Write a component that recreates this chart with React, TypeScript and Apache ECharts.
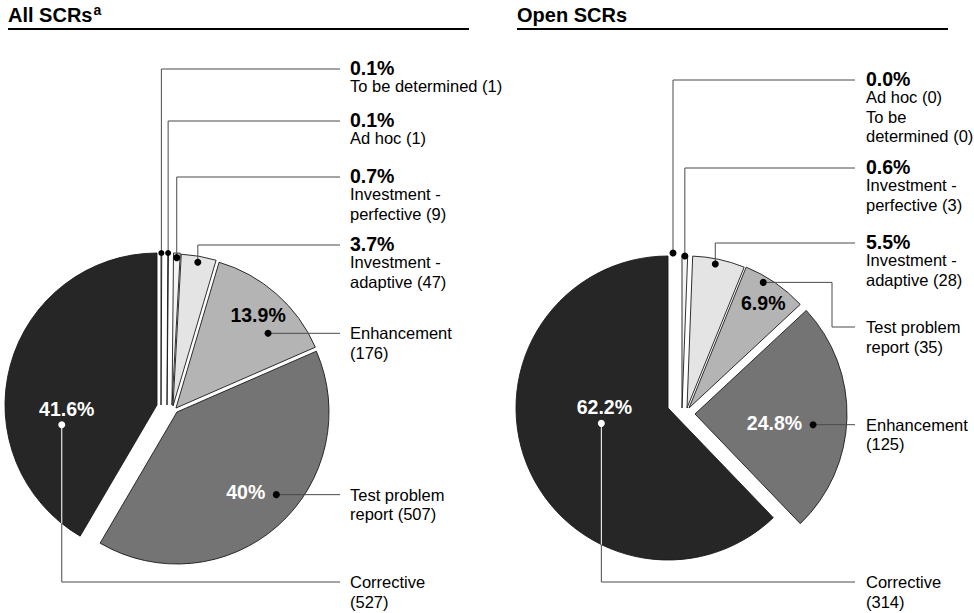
import React, { useEffect, useRef } from 'react';
import * as echarts from 'echarts';

// ---------------- data ----------------
const leftTitle = 'All SCRs';
const leftTitleNote = 'a';
const leftCategories = ['To be determined', 'Ad hoc', 'Investment - perfective', 'Investment - adaptive', 'Enhancement', 'Test problem report', 'Corrective'];
const leftCounts = [1, 1, 9, 47, 176, 507, 527];
const leftPctLabels = ['0.1%', '0.1%', '0.7%', '3.7%', '13.9%', '40%', '41.6%'];
const leftLabelNames = ['To be determined', 'Ad hoc', 'Investment -\nperfective', 'Investment -\nadaptive', 'Enhancement\n', 'Test problem\nreport', 'Corrective\n'];

const rightTitle = 'Open SCRs';
const rightCategories = ['Ad hoc', 'To be determined', 'Investment - perfective', 'Investment - adaptive', 'Test problem report', 'Enhancement', 'Corrective'];
const rightCounts = [0, 0, 3, 28, 35, 125, 314];
const rightPctLabels = ['0.0%', '0.0%', '0.6%', '5.5%', '6.9%', '24.8%', '62.2%'];
const rightLabelNames = ['Ad hoc', 'To be\ndetermined', 'Investment -\nperfective', 'Investment -\nadaptive', 'Test problem\nreport', 'Enhancement\n', 'Corrective\n'];

// ---------------- styles / layout ----------------
const FONT = '"Liberation Sans", Arial, Helvetica, sans-serif';
const LEADER = '#4a4a4a';
const OUTLINE = '#1a1a1a';

type Pt = [number, number];
interface PieCfg {
  title: string; note?: string; titleX: number; ruleEnd: number;
  categories: string[]; counts: number[]; pctLabels: string[]; labelNames: string[];
  groups: number[][];
  center: Pt; radius: number;
  offsets: Pt[]; colors: string[]; hidden: boolean[];
  anchors: Pt[]; dotR: number[];
  leaderY: (number | null)[]; elbowX: (number | null)[];
  labelX: number; lineEndX: number;
  inside: (null | [number, number, string])[];
}

const LEFT: PieCfg = {
  title: leftTitle, note: leftTitleNote, titleX: 8, ruleEnd: 469,
  categories: leftCategories, counts: leftCounts, pctLabels: leftPctLabels, labelNames: leftLabelNames,
  groups: [[0], [1], [2], [3], [4], [5], [6]],
  center: [157, 405], radius: 152,
  offsets: [[4, 0], [10, 0], [15, 0], [16, 1], [19, 3], [20, 7], [0, 0]],
  colors: ['#ffffff', '#ffffff', '#f4f4f4', '#e4e4e4', '#b4b4b4', '#747474', '#262626'],
  hidden: [false, false, false, false, false, false, false],
  anchors: [[1.0, 0.5], [1.0, 0.5], [0.97, 0.5], [0.96, 0.5], [0.78, 0.69], [0.85, 0.44], [0.64, 0.32]],
  dotR: [3, 3, 3.5, 3.5, 3.5, 3.5, 3.5],
  leaderY: [69, 121, 177, 245, null, null, 582],
  elbowX: [null, null, null, null, null, null, null],
  labelX: 350, lineEndX: 340,
  inside: [null, null, null, null, [-10, -18, 'center'], [-11, -3, 'right'], [5, -16, 'center']],
};

const RIGHT: PieCfg = {
  title: rightTitle, titleX: 517, ruleEnd: 948,
  categories: rightCategories, counts: rightCounts, pctLabels: rightPctLabels, labelNames: rightLabelNames,
  groups: [[0, 1], [2], [3], [4], [5], [6]],
  center: [668, 408], radius: 152,
  offsets: [[5, 0], [5, 0], [14, 0], [19, 0], [21, 0], [27, 6], [0, 0]],
  colors: ['#ffffff', '#ffffff', '#f4f4f4', '#e4e4e4', '#b4b4b4', '#747474', '#262626'],
  hidden: [true, true, false, false, false, false, false],
  anchors: [[1.02, 0.5], [1.02, 0.5], [1.0, 0.5], [0.965, 0.45], [0.96, 0.34], [0.78, 0.54], [0.45, 0.54]],
  dotR: [3.5, 3.5, 3.5, 3.5, 3.5, 3.5, 3.5],
  leaderY: [80, 168, 243, 327, null, 582],
  elbowX: [null, null, null, 832, null, null],
  labelX: 866, lineEndX: 855,
  inside: [null, null, null, null, [0, 21, 'center'], [-11, -2, 'right'], [3, -16, 'center']],
};

function isDark(hex: string) {
  const v = parseInt(hex.slice(1), 16);
  const r = (v >> 16) & 255, g = (v >> 8) & 255, b = v & 255;
  return (r + g + b) / 3 < 128;
}

function measure(text: string, font: string) {
  const c = document.createElement('canvas').getContext('2d');
  if (!c) return text.length * 10;
  c.font = font;
  return c.measureText(text).width;
}

function build(cfg: PieCfg) {
  const total = cfg.counts.reduce((a, b) => a + b, 0);
  const starts: number[] = [];
  const ends: number[] = [];
  let acc = 0;
  cfg.counts.forEach((v) => { starts.push((acc / total) * 360); acc += v; ends.push((acc / total) * 360); });
  const sc = (i: number): Pt => [cfg.center[0] + cfg.offsets[i][0], cfg.center[1] + cfg.offsets[i][1]];
  const polar = (c: Pt, rr: number, deg: number): Pt => {
    const a = (deg * Math.PI) / 180;
    return [c[0] + rr * Math.sin(a), c[1] - rr * Math.cos(a)];
  };
  const anchor = (i: number): Pt => polar(sc(i), cfg.anchors[i][0] * cfg.radius, starts[i] + cfg.anchors[i][1] * (ends[i] - starts[i]));

  const series: any[] = [];
  cfg.counts.forEach((_, i) => {
    if (cfg.hidden[i]) return;
    series.push({
      type: 'pie', silent: true, animation: false,
      center: sc(i), radius: cfg.radius, startAngle: 90, clockwise: true,
      label: { show: false }, labelLine: { show: false }, emphasis: { disabled: true },
      data: cfg.counts.map((v, j) => ({
        value: v, name: cfg.categories[j],
        itemStyle: j === i
          ? { color: cfg.colors[j], borderColor: OUTLINE, borderWidth: 0.9 }
          : { color: 'rgba(0,0,0,0)', borderWidth: 0 },
      })),
    });
  });

  const els: any[] = [];
  const text = (x: number, y: number, t: string, font: string, fill: string, align = 'left') => {
    els.push({ type: 'text', z: 110, x, y, silent: true,
      style: { text: t, font, fill, align, verticalAlign: 'middle', textAlign: align, textVerticalAlign: 'middle' } });
  };

  // title + rule
  const titleFont = `bold 20px ${FONT}`;
  text(cfg.titleX, 15, cfg.title, titleFont, '#000');
  if (cfg.note) {
    const w = measure(cfg.title, titleFont);
    text(cfg.titleX + w + 1, 10, cfg.note, `bold 14px ${FONT}`, '#000');
  }
  els.push({ type: 'line', z: 110, silent: true, shape: { x1: cfg.titleX, y1: 29, x2: cfg.ruleEnd, y2: 29 }, style: { stroke: '#000', lineWidth: 2 } });

  const boldFont = `bold 19.5px ${FONT}`;
  const regFont = `16.5px ${FONT}`;

  cfg.groups.forEach((grp, gi) => {
    const i = grp[0];
    const d = anchor(i);
    const L = cfg.leaderY[gi] == null ? d[1] : (cfg.leaderY[gi] as number);
    const ex = cfg.elbowX[gi];
    let pts: Pt[];
    if (ex != null) pts = [d, [ex, d[1]], [ex, L], [cfg.lineEndX, L]];
    else if (Math.abs(L - d[1]) < 1) pts = [d, [cfg.lineEndX, d[1]]];
    else pts = [d, [d[0], L], [cfg.lineEndX, L]];
    els.push({ type: 'polyline', z: 105, silent: true, shape: { points: pts }, style: { stroke: LEADER, lineWidth: 1, fill: null } });

    const veryDark = parseInt(cfg.colors[i].slice(1, 3), 16) < 0x50;
    if (veryDark && !cfg.hidden[i]) {
      // white part of the leader inside a very dark slice
      const c = sc(i);
      const p0 = pts[0], p1 = pts[1];
      const len = Math.hypot(p1[0] - p0[0], p1[1] - p0[1]);
      const ux = (p1[0] - p0[0]) / len, uy = (p1[1] - p0[1]) / len;
      const fx = p0[0] - c[0], fy = p0[1] - c[1];
      const b = fx * ux + fy * uy;
      const cc = fx * fx + fy * fy - cfg.radius * cfg.radius;
      const t = -b + Math.sqrt(b * b - cc);
      const tt = Math.min(t, len);
      els.push({ type: 'line', z: 106, silent: true, shape: { x1: p0[0], y1: p0[1], x2: p0[0] + ux * tt, y2: p0[1] + uy * tt }, style: { stroke: '#ffffff', lineWidth: 1 } });
    }
    els.push({ type: 'circle', z: 107, silent: true, shape: { cx: d[0], cy: d[1], r: cfg.dotR[i] }, style: { fill: veryDark ? '#ffffff' : '#000000' } });

    // outside label lines
    const lines: { t: string; bold: boolean }[] = [];
    const pctOutside = cfg.inside[i] == null;
    if (pctOutside) lines.push({ t: cfg.pctLabels[i], bold: true });
    grp.forEach((k) => {
      const nm = cfg.labelNames[k];
      const full = nm + (nm.endsWith('\n') ? '' : ' ') + `(${cfg.counts[k]})`;
      full.split('\n').forEach((s) => lines.push({ t: s, bold: false }));
    });
    let y = pctOutside ? L - 1 : L;
    lines.forEach((ln, li) => {
      if (li > 0) y += lines[li - 1].bold ? 18 : 19.5;
      text(cfg.labelX, y, ln.t, ln.bold ? boldFont : regFont, '#000');
    });

    // inside percentage label
    grp.forEach((k) => {
      const ins = cfg.inside[k];
      if (!ins) return;
      const dk = anchor(k);
      text(dk[0] + ins[0], dk[1] + ins[1], cfg.pctLabels[k], boldFont, isDark(cfg.colors[k]) ? '#ffffff' : '#000000', ins[2]);
    });
  });

  return { series, els };
}

export default function App() {
  const ref = useRef<HTMLDivElement>(null);
  useEffect(() => {
    if (!ref.current) return;
    const chart = echarts.init(ref.current, null, { renderer: 'svg' });
    const a = build(LEFT);
    const b = build(RIGHT);
    chart.setOption({
      animation: false,
      backgroundColor: '#ffffff',
      tooltip: { show: false },
      series: [...a.series, ...b.series],
      graphic: { elements: [...a.els, ...b.els] },
    });
    return () => chart.dispose();
  }, []);
  return <div ref={ref} style={{ position: 'absolute', left: 0, top: 0, width: 974, height: 613 }} />;
}
